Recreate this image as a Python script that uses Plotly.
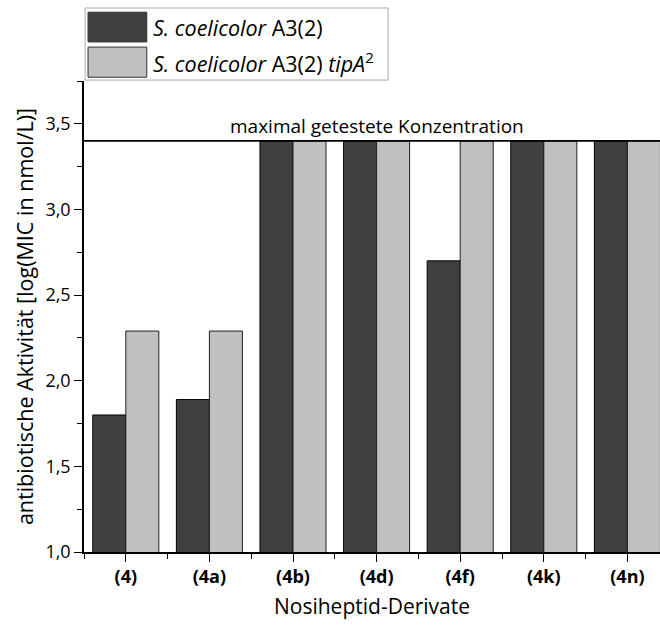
import plotly.graph_objects as go

# Nosiheptide derivatives and their log(MIC) values for the two strains
categories = ["(4)", "(4a)", "(4b)", "(4d)", "(4f)", "(4k)", "(4n)"]
wild_type = [1.80, 1.89, 3.40, 3.40, 2.70, 3.40, 3.40]
tipA_mutant = [2.29, 2.29, 3.40, 3.40, 3.40, 3.40, 3.40]
max_tested = 3.40
series_names = ["<i>S. coelicolor</i> A3(2)",
                "<i>S. coelicolor</i> A3(2) <i>tipA</i><sup>2</sup>"]
y_ticks = [1.0, 1.5, 2.0, 2.5, 3.0, 3.5]

DARK = "#404040"
LIGHT = "#c0c0c0"
FONT = "Open Sans"

xpos = list(range(len(categories)))

fig = go.Figure()
fig.add_trace(go.Bar(x=xpos, y=wild_type, name=series_names[0],
                     marker=dict(color=DARK, line=dict(color="#000000", width=1)),
                     showlegend=False))
fig.add_trace(go.Bar(x=xpos, y=tipA_mutant, name=series_names[1],
                     marker=dict(color=LIGHT, line=dict(color="#202020", width=1)),
                     showlegend=False))

# upper concentration limit
fig.add_shape(type="line", xref="paper", yref="y", x0=0, x1=1,
              y0=max_tested, y1=max_tested,
              line=dict(color="#000000", width=1.8))
fig.add_annotation(x=3, y=max_tested, xref="x", yref="y",
                   text="maximal getestete Konzentration", showarrow=False,
                   yanchor="bottom", yshift=0,
                   font=dict(family=FONT, size=19, color="#000000"))

# hand-built legend with large swatches
legend_box = dict(x0=0.002, x1=0.528, y0=1.002, y1=1.155)
fig.add_shape(type="rect", xref="paper", yref="paper", **legend_box,
              line=dict(color="#aaaaaa", width=1), fillcolor="white")
rows = [(1.146, 1.083), (1.072, 1.008)]
for (top, bottom), color, label in zip(rows, [DARK, LIGHT], series_names):
    fig.add_shape(type="rect", xref="paper", yref="paper",
                  x0=0.007, x1=0.109, y0=bottom, y1=top,
                  line=dict(color="#333333", width=1), fillcolor=color)
    fig.add_annotation(x=0.117, y=(top + bottom) / 2, xref="paper", yref="paper",
                       text=label, showarrow=False, xanchor="left", yanchor="middle",
                       font=dict(family=FONT, size=21.5, color="#000000"))

fig.update_layout(
    width=660, height=630,
    margin=dict(l=84, r=0, t=81, b=78),
    paper_bgcolor="white", plot_bgcolor="white",
    barmode="group", bargap=0.21, bargroupgap=0,
    separators=",.",
    font=dict(family=FONT, color="#000000"),
)
fig.update_xaxes(
    range=[-0.5, 6.39], tickvals=xpos, ticktext=categories,
    tickfont=dict(family=FONT, size=18, weight="bold"),
    showline=True, linecolor="#000000", linewidth=1.5,
    ticks="outside", ticklen=8, tickwidth=1.2, tickcolor="#000000",
    minor=dict(tick0=-0.5, dtick=1, ticks="outside", ticklen=5,
               tickwidth=1.2, tickcolor="#000000"),
    showgrid=False, zeroline=False,
    title=dict(text="Nosiheptid-Derivate", font=dict(family=FONT, size=21), standoff=12),
)
fig.update_yaxes(
    range=[1.0, 3.75], tickvals=y_ticks, tickformat=".1f",
    tickfont=dict(family=FONT, size=18),
    showline=True, linecolor="#000000", linewidth=1.5,
    ticks="outside", ticklen=8, tickwidth=1.2, tickcolor="#000000",
    minor=dict(dtick=0.25, tick0=1.0, ticks="outside", ticklen=5,
               tickwidth=1.2, tickcolor="#000000"),
    showgrid=False, zeroline=False,
    title=dict(text="antibiotische Aktivität [log(MIC in nmol/L)]",
               font=dict(family=FONT, size=21.5), standoff=6),
)

fig.write_html("out.html")
